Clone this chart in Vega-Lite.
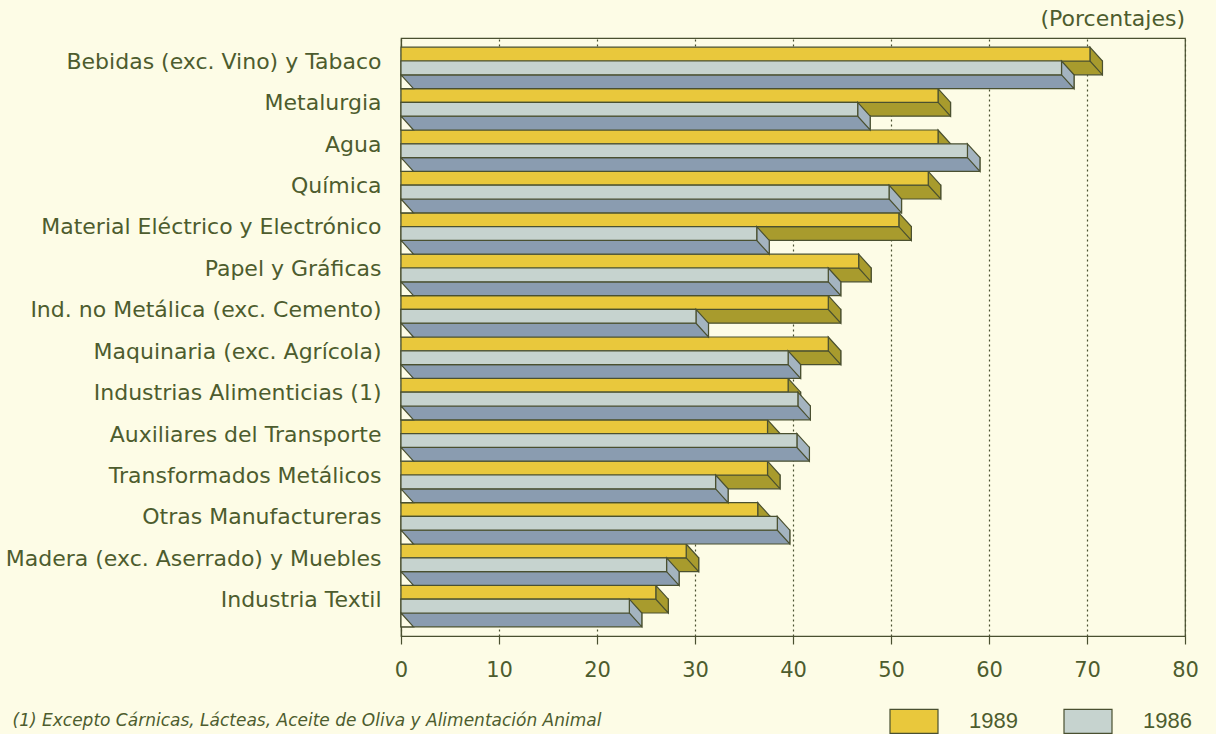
{
  "$schema": "https://vega.github.io/schema/vega-lite/v6.json",
  "width": 784,
  "height": 598,
  "autosize": {"type": "none"},
  "padding": {"left": 401, "top": 38, "right": 31, "bottom": 98},
  "background": "#fdfce6",
  "config": {
    "font": "DejaVu Sans",
    "view": {"stroke": "#4a5030", "strokeWidth": 1.2},
    "legend": {"padding": 0}
  },
  "title": {"text": "(Porcentajes)", "anchor": "end", "frame": "group", "fontSize": 22, "fontWeight": "normal", "color": "#4d5c2e", "offset": 7, "font": "DejaVu Sans"},
  "datasets": {
    "d": [
      {"cat": "Bebidas (exc. Vino) y Tabaco", "serie": "1989", "valor": 70.3},
      {"cat": "Bebidas (exc. Vino) y Tabaco", "serie": "1986", "valor": 67.4},
      {"cat": "Metalurgia", "serie": "1989", "valor": 54.8},
      {"cat": "Metalurgia", "serie": "1986", "valor": 46.6},
      {"cat": "Agua", "serie": "1989", "valor": 54.8},
      {"cat": "Agua", "serie": "1986", "valor": 57.8},
      {"cat": "Química", "serie": "1989", "valor": 53.8},
      {"cat": "Química", "serie": "1986", "valor": 49.8},
      {"cat": "Material Eléctrico y Electrónico", "serie": "1989", "valor": 50.8},
      {"cat": "Material Eléctrico y Electrónico", "serie": "1986", "valor": 36.3},
      {"cat": "Papel y Gráficas", "serie": "1989", "valor": 46.7},
      {"cat": "Papel y Gráficas", "serie": "1986", "valor": 43.6},
      {"cat": "Ind. no Metálica (exc. Cemento)", "serie": "1989", "valor": 43.6},
      {"cat": "Ind. no Metálica (exc. Cemento)", "serie": "1986", "valor": 30.1},
      {"cat": "Maquinaria (exc. Agrícola)", "serie": "1989", "valor": 43.6},
      {"cat": "Maquinaria (exc. Agrícola)", "serie": "1986", "valor": 39.5},
      {"cat": "Industrias Alimenticias (1)", "serie": "1989", "valor": 39.5},
      {"cat": "Industrias Alimenticias (1)", "serie": "1986", "valor": 40.5},
      {"cat": "Auxiliares del Transporte", "serie": "1989", "valor": 37.4},
      {"cat": "Auxiliares del Transporte", "serie": "1986", "valor": 40.4},
      {"cat": "Transformados Metálicos", "serie": "1989", "valor": 37.4},
      {"cat": "Transformados Metálicos", "serie": "1986", "valor": 32.1},
      {"cat": "Otras Manufactureras", "serie": "1989", "valor": 36.4},
      {"cat": "Otras Manufactureras", "serie": "1986", "valor": 38.4},
      {"cat": "Madera (exc. Aserrado) y Muebles", "serie": "1989", "valor": 29.1},
      {"cat": "Madera (exc. Aserrado) y Muebles", "serie": "1986", "valor": 27.1},
      {"cat": "Industria Textil", "serie": "1989", "valor": 26.0},
      {"cat": "Industria Textil", "serie": "1986", "valor": 23.3}
    ]
  },
  "data": {"name": "d"},
  "encoding": {
    "y": {
      "field": "cat", "type": "nominal", "sort": null,
      "scale": {"paddingInner": 0, "paddingOuter": 0.222},
      "axis": {"title": null, "ticks": false, "domain": true, "domainColor": "#4a5030", "domainWidth": 1.2, "labelFont": "DejaVu Sans", "labelFontSize": 22, "labelColor": "#4d5c2e", "labelPadding": 20, "labelOffset": -6, "labelLimit": 400}
    },
    "x": {
      "field": "valor", "type": "quantitative", "stack": null,
      "scale": {"domain": [0, 80], "nice": false},
      "axis": {
        "values": [0, 10, 20, 30, 40, 50, 60, 70, 80],
        "grid": true, "gridDash": [2, 3], "gridColor": "#4a5030", "gridWidth": 1.2,
        "domainColor": "#4a5030", "domainWidth": 1.2, "tickColor": "#4a5030", "tickWidth": 1.2, "tickSize": 8,
        "labelFont": "DejaVu Sans", "labelFontSize": 21, "labelColor": "#4d5c2e", "labelPadding": 15, "labelFlush": false,
        "title": "(1) Excepto Cárnicas, Lácteas, Aceite de Oliva y Alimentación Animal",
        "titleX": -389, "titleY": 84, "titleAlign": "left", "titleBaseline": "middle", "titleAnchor": "start",
        "titleFont": "DejaVu Sans", "titleFontSize": 17, "titleFontStyle": "italic", "titleFontWeight": "normal", "titleColor": "#4d5c2e"
      }
    }
  },
  "layer": [
    {
      "transform": [{"filter": "datum.serie == '1989'"}],
      "mark": {"type": "bar", "height": 13.8, "yOffset": 0, "xOffset": 12.5, "fill": "#a89b2d", "stroke": "#4a5030", "strokeWidth": 1.2},
      "encoding": {"x2": {"datum": 0}}
    },
    {
      "transform": [{"filter": "datum.serie == '1989'"}],
      "mark": {"type": "point", "shape": "M0,-20.7L12.5,-6.9L12.5,6.9L0,-6.9Z", "size": 4, "filled": true, "fill": "#a89b2d", "stroke": "#4a5030", "strokeWidth": 1.2, "opacity": 1}
    },
    {
      "transform": [{"filter": "datum.serie == '1989'"}],
      "mark": {"type": "bar", "height": 13.8, "yOffset": -13.8, "stroke": "#4a5030", "strokeWidth": 1.2, "opacity": 1},
      "encoding": {
        "x2": {"datum": 0},
        "color": {"field": "serie", "type": "nominal", "scale": {"domain": ["1989", "1986"], "range": ["#e9c83c", "#c6d3cf"]},
          "legend": {"orient": "none", "legendX": 488, "legendY": 658, "direction": "horizontal", "title": null,
            "symbolType": "M-1,-0.5H1V0.5H-1Z", "symbolSize": 2304, "symbolStrokeColor": "#4a5030", "symbolStrokeWidth": 1.2, "symbolOpacity": 1,
            "labelFont": "Liberation Sans", "labelFontSize": 22, "labelColor": "#4d5c2e", "labelOffset": 30, "columnPadding": 43}}
      }
    },
    {
      "transform": [{"filter": "datum.serie == '1986'"}],
      "mark": {"type": "bar", "height": 13.8, "yOffset": 13.8, "xOffset": 12.5, "fill": "#8a9cb0", "stroke": "#4a5030", "strokeWidth": 1.2},
      "encoding": {"x2": {"datum": 0}}
    },
    {
      "transform": [{"filter": "datum.serie == '1986'"}],
      "mark": {"type": "point", "shape": "M0,-6.9L12.5,6.9L12.5,20.7L0,6.9Z", "size": 4, "filled": true, "fill": "#a4b4c0", "stroke": "#4a5030", "strokeWidth": 1.2, "opacity": 1}
    },
    {
      "transform": [{"filter": "datum.serie == '1986'"}],
      "mark": {"type": "bar", "height": 13.8, "yOffset": 0, "stroke": "#4a5030", "strokeWidth": 1.2, "opacity": 1},
      "encoding": {
        "x2": {"datum": 0},
        "color": {"field": "serie", "type": "nominal", "scale": {"domain": ["1989", "1986"], "range": ["#e9c83c", "#c6d3cf"]}}
      }
    },
    {
      "transform": [{"filter": "datum.serie == '1986'"}],
      "mark": {"type": "point", "shape": "M0,6.9L12.5,20.7L0,20.7Z", "size": 4, "filled": true, "fill": "#fdfce6", "stroke": "#4a5030", "strokeWidth": 1.2, "opacity": 1},
      "encoding": {"x": {"datum": 0}}
    }
  ]
}
